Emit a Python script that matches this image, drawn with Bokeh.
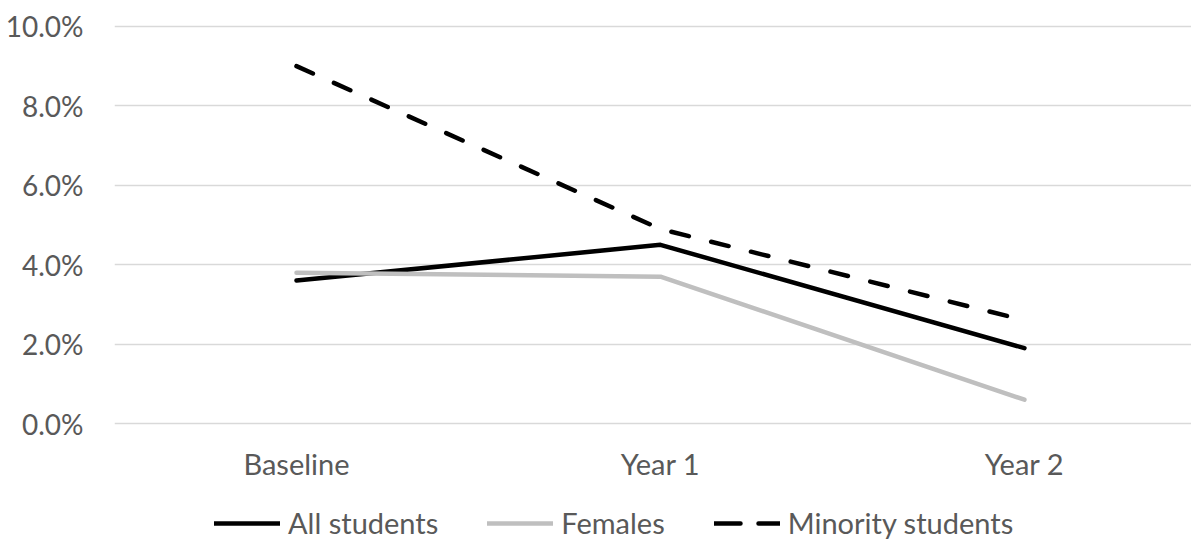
from bokeh.plotting import figure
from bokeh.layouts import column
from bokeh.models import Range1d, FixedTicker, PrintfTickFormatter, Legend, LegendItem
from bokeh.embed import file_html
from bokeh.resources import INLINE

# Share of students (%) at each time point
periods = ["Baseline", "Year 1", "Year 2"]
all_students = [3.6, 4.5, 1.9]
females = [3.8, 3.7, 0.6]
minority_students = [9.0, 4.9, 2.6]
y_ticks = [0, 2, 4, 6, 8, 10]

x = list(range(len(periods)))

FONT = "Lato"
TEXT_COLOR = "#595959"
WIDTH = 1191

# (label, values, line style on the chart, line style in the legend key)
series = [
    ("All students", all_students, dict(line_color="black"), dict(line_color="black")),
    ("Females", females, dict(line_color="#bfbfbf"), dict(line_color="#bfbfbf")),
    ("Minority students", minority_students,
     dict(line_color="black", line_dash="18 23"),
     dict(line_color="black", line_dash="26 18")),
]
common = dict(line_width=4.5, line_cap="round", line_join="round")

p = figure(
    width=WIDTH, height=500,
    output_backend="svg", toolbar_location=None,
    x_range=Range1d(-0.5, 2.459), y_range=Range1d(-0.25, 10.25),
    min_border_left=114, min_border_right=0,
    min_border_top=16, min_border_bottom=67,
    background_fill_color="white", border_fill_color="white",
)
p.outline_line_color = None

for name, values, style, _ in series:
    p.line(x, values, **style, **common)

# Axes
p.xaxis.ticker = FixedTicker(ticks=x)
p.xaxis.major_label_overrides = {i: s for i, s in enumerate(periods)}
p.yaxis.ticker = FixedTicker(ticks=y_ticks)
p.yaxis.formatter = PrintfTickFormatter(format="%.1f%%")
for ax in (p.xaxis, p.yaxis):
    ax.axis_line_color = None
    ax.major_tick_line_color = None
    ax.minor_tick_line_color = None
    ax.major_tick_out = 0
    ax.major_tick_in = 0
    ax.major_label_text_font = FONT
    ax.major_label_text_color = TEXT_COLOR
p.xaxis.major_label_text_font_size = "29px"
p.yaxis.major_label_text_font_size = "28px"
p.xaxis.major_label_standoff = 12
p.yaxis.major_label_standoff = 31

p.xgrid.grid_line_color = None
p.ygrid.ticker = FixedTicker(ticks=y_ticks)
p.ygrid.grid_line_color = "#d9d9d9"
p.ygrid.grid_line_width = 1.5

# Legend strip under the chart; its ranges keep the helper lines out of view
leg = figure(
    width=WIDTH, height=41,
    output_backend="svg", toolbar_location=None,
    x_axis_type=None, y_axis_type=None,
    x_range=Range1d(100, 101), y_range=Range1d(100, 101),
    min_border=0, min_border_left=0, min_border_right=0,
    min_border_top=0, min_border_bottom=0,
    background_fill_color="white", border_fill_color="white",
)
leg.outline_line_color = None
items = []
for name, values, _, key_style in series:
    r = leg.line(x, values, **key_style, **common)
    items.append(LegendItem(label=name, renderers=[r]))

legend = Legend(
    items=items,
    orientation="horizontal",
    location=(100, 1),
    glyph_width=66, glyph_height=30, label_height=30,
    label_standoff=8, spacing=49, padding=0, margin=0,
    border_line_color=None, background_fill_alpha=0,
    label_text_font=FONT, label_text_font_size="29px",
    label_text_color=TEXT_COLOR,
)
leg.add_layout(legend)

layout = column(p, leg, spacing=0)
open("out.html", "w").write(file_html(layout, INLINE))
